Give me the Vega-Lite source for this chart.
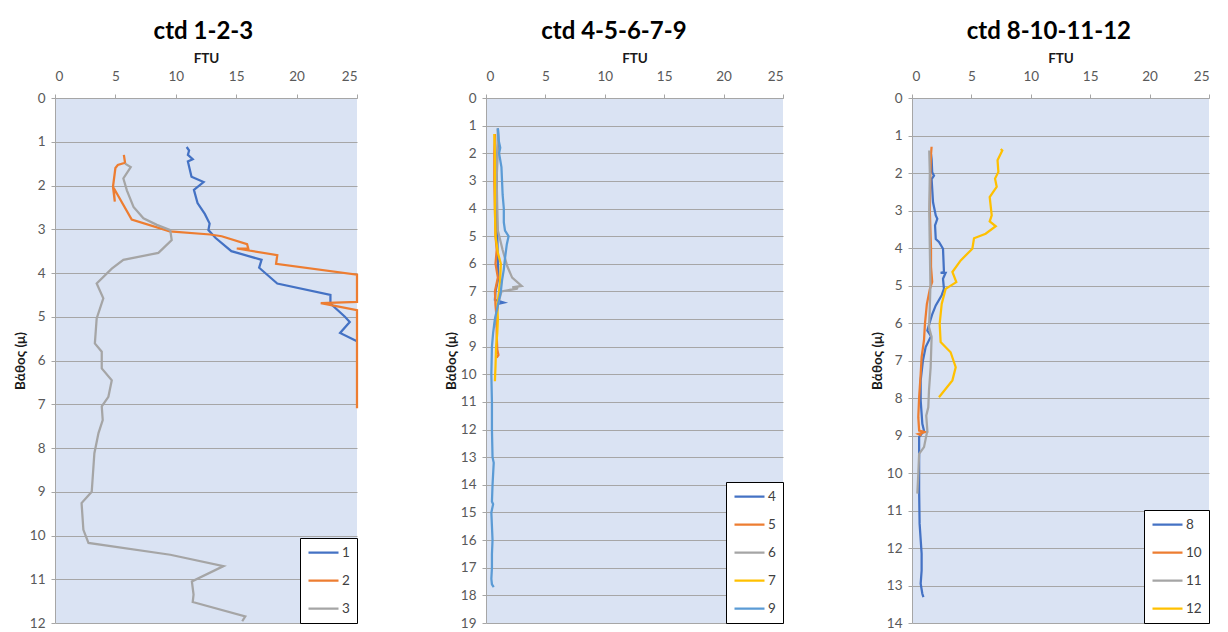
{
 "$schema": "https://vega.github.io/schema/vega-lite/v6.json",
 "background": "white",
 "padding": {"left": 13, "top": 20, "right": 5, "bottom": 5},
 "bounds": "flush",
 "spacing": 129,
 "datasets": {
  "p1": [
   {"s":"1","d":1.12,"v":10.9},{"s":"1","d":1.2,"v":11.1},{"s":"1","d":1.3,"v":11.0},{"s":"1","d":1.4,"v":11.4},{"s":"1","d":1.45,"v":11.0},{"s":"1","d":1.8,"v":11.3},{"s":"1","d":1.92,"v":12.3},{"s":"1","d":2.1,"v":11.5},{"s":"1","d":2.4,"v":11.8},{"s":"1","d":2.65,"v":12.4},{"s":"1","d":2.87,"v":12.8},{"s":"1","d":3.02,"v":12.7},{"s":"1","d":3.2,"v":13.3},{"s":"1","d":3.5,"v":14.6},{"s":"1","d":3.7,"v":17.1},{"s":"1","d":3.88,"v":16.9},{"s":"1","d":4.24,"v":18.4},{"s":"1","d":4.5,"v":22.8},{"s":"1","d":4.7,"v":22.8},{"s":"1","d":5.0,"v":24.0},{"s":"1","d":5.12,"v":24.4},{"s":"1","d":5.37,"v":23.6},{"s":"1","d":5.56,"v":25.0},
   {"s":"2","d":1.3,"v":5.7},{"s":"2","d":1.48,"v":5.8},{"s":"2","d":1.53,"v":5.2},{"s":"2","d":1.6,"v":5.0},{"s":"2","d":2.03,"v":4.8},{"s":"2","d":2.37,"v":4.95},{"s":"2","d":2.05,"v":4.85},{"s":"2","d":2.78,"v":6.35},{"s":"2","d":3.05,"v":9.5},{"s":"2","d":3.12,"v":12.85},{"s":"2","d":3.16,"v":13.8},{"s":"2","d":3.34,"v":15.9},{"s":"2","d":3.44,"v":16.0},{"s":"2","d":3.44,"v":15.05},{"s":"2","d":3.59,"v":18.4},{"s":"2","d":3.79,"v":18.3},{"s":"2","d":4.04,"v":25.0},{"s":"2","d":4.66,"v":25.0},{"s":"2","d":4.69,"v":22.0},{"s":"2","d":4.85,"v":25.0},{"s":"2","d":7.09,"v":25.0},
   {"s":"3","d":1.5,"v":5.8},{"s":"3","d":1.58,"v":6.27},{"s":"3","d":1.84,"v":5.66},{"s":"3","d":2.11,"v":5.95},{"s":"3","d":2.49,"v":6.5},{"s":"3","d":2.75,"v":7.32},{"s":"3","d":2.9,"v":8.43},{"s":"3","d":3.02,"v":9.54},{"s":"3","d":3.25,"v":9.66},{"s":"3","d":3.54,"v":8.56},{"s":"3","d":3.7,"v":5.66},{"s":"3","d":3.9,"v":4.7},{"s":"3","d":4.24,"v":3.45},{"s":"3","d":4.58,"v":4.0},{"s":"3","d":5.04,"v":3.45},{"s":"3","d":5.61,"v":3.3},{"s":"3","d":5.8,"v":3.87},{"s":"3","d":6.18,"v":3.87},{"s":"3","d":6.45,"v":4.7},{"s":"3","d":6.83,"v":4.42},{"s":"3","d":7.05,"v":3.87},{"s":"3","d":7.36,"v":3.95},{"s":"3","d":7.66,"v":3.6},{"s":"3","d":8.12,"v":3.26},{"s":"3","d":9.0,"v":3.04},{"s":"3","d":9.26,"v":2.2},{"s":"3","d":9.87,"v":2.35},{"s":"3","d":10.17,"v":2.77},{"s":"3","d":10.44,"v":9.54},{"s":"3","d":10.7,"v":13.95},{"s":"3","d":11.05,"v":11.33},{"s":"3","d":11.35,"v":11.47},{"s":"3","d":11.52,"v":11.4},{"s":"3","d":11.85,"v":15.75},{"s":"3","d":11.96,"v":15.5}
  ],
  "p2": [
   {"s":"4","d":1.1,"v":1.0},{"s":"4","d":1.5,"v":1.05},{"s":"4","d":2.0,"v":0.95},{"s":"4","d":3.0,"v":0.9},{"s":"4","d":4.0,"v":0.9},{"s":"4","d":5.0,"v":0.95},{"s":"4","d":6.0,"v":1.0},{"s":"4","d":6.5,"v":1.05},{"s":"4","d":7.0,"v":0.8},{"s":"4","d":7.3,"v":0.75},{"s":"4","d":7.4,"v":1.5},{"s":"4","d":7.45,"v":1.0},{"s":"4","d":7.8,"v":0.9},{"s":"4","d":8.2,"v":0.8},
   {"s":"5","d":1.3,"v":0.75},{"s":"5","d":2.0,"v":0.7},{"s":"5","d":3.0,"v":0.7},{"s":"5","d":4.0,"v":0.75},{"s":"5","d":5.0,"v":0.8},{"s":"5","d":5.5,"v":0.9},{"s":"5","d":6.0,"v":0.8},{"s":"5","d":6.5,"v":1.0},{"s":"5","d":7.0,"v":0.75},{"s":"5","d":7.5,"v":0.8},{"s":"5","d":8.0,"v":0.9},{"s":"5","d":8.6,"v":0.9},{"s":"5","d":9.1,"v":0.95},{"s":"5","d":9.3,"v":1.05},{"s":"5","d":9.4,"v":0.9},
   {"s":"6","d":1.1,"v":1.0},{"s":"6","d":2.0,"v":0.95},{"s":"6","d":3.0,"v":0.9},{"s":"6","d":4.0,"v":0.95},{"s":"6","d":4.8,"v":1.0},{"s":"6","d":5.5,"v":1.4},{"s":"6","d":6.1,"v":1.8},{"s":"6","d":6.5,"v":2.2},{"s":"6","d":6.8,"v":3.0},{"s":"6","d":6.85,"v":2.2},{"s":"6","d":6.82,"v":2.7},{"s":"6","d":6.9,"v":2.6},{"s":"6","d":7.0,"v":1.3},{"s":"6","d":7.5,"v":1.0},{"s":"6","d":8.0,"v":0.8},{"s":"6","d":8.3,"v":0.7},
   {"s":"7","d":1.3,"v":0.7},{"s":"7","d":2.0,"v":0.75},{"s":"7","d":3.0,"v":0.75},{"s":"7","d":4.0,"v":0.75},{"s":"7","d":5.0,"v":0.8},{"s":"7","d":5.6,"v":1.0},{"s":"7","d":6.0,"v":1.25},{"s":"7","d":6.5,"v":1.2},{"s":"7","d":7.0,"v":1.1},{"s":"7","d":7.5,"v":0.95},{"s":"7","d":8.0,"v":1.0},{"s":"7","d":8.5,"v":0.95},{"s":"7","d":9.0,"v":0.85},{"s":"7","d":9.7,"v":0.8},{"s":"7","d":10.25,"v":0.75},
   {"s":"9","d":1.1,"v":1.0},{"s":"9","d":1.5,"v":1.05},{"s":"9","d":1.8,"v":1.2},{"s":"9","d":2.0,"v":1.1},{"s":"9","d":2.5,"v":1.3},{"s":"9","d":3.0,"v":1.35},{"s":"9","d":3.5,"v":1.4},{"s":"9","d":4.0,"v":1.5},{"s":"9","d":4.5,"v":1.5},{"s":"9","d":4.8,"v":1.6},{"s":"9","d":5.0,"v":1.9},{"s":"9","d":5.3,"v":1.75},{"s":"9","d":5.8,"v":1.6},{"s":"9","d":6.2,"v":1.5},{"s":"9","d":6.6,"v":1.35},{"s":"9","d":7.0,"v":1.25},{"s":"9","d":7.5,"v":1.0},{"s":"9","d":8.0,"v":0.75},{"s":"9","d":8.5,"v":0.6},{"s":"9","d":9.0,"v":0.5},{"s":"9","d":10.0,"v":0.45},{"s":"9","d":11.0,"v":0.5},{"s":"9","d":12.0,"v":0.5},{"s":"9","d":13.0,"v":0.55},{"s":"9","d":13.2,"v":0.65},{"s":"9","d":14.0,"v":0.55},{"s":"9","d":14.6,"v":0.5},{"s":"9","d":14.7,"v":0.6},{"s":"9","d":15.0,"v":0.45},{"s":"9","d":15.5,"v":0.5},{"s":"9","d":16.0,"v":0.55},{"s":"9","d":16.5,"v":0.5},{"s":"9","d":17.0,"v":0.5},{"s":"9","d":17.4,"v":0.45},{"s":"9","d":17.6,"v":0.5},{"s":"9","d":17.7,"v":0.65}
  ],
  "p3": [
   {"s":"8","d":1.5,"v":1.6},{"s":"8","d":1.63,"v":1.65},{"s":"8","d":1.98,"v":1.7},{"s":"8","d":2.07,"v":1.85},{"s":"8","d":2.16,"v":1.65},{"s":"8","d":2.78,"v":1.77},{"s":"8","d":3.13,"v":2.0},{"s":"8","d":3.22,"v":2.13},{"s":"8","d":3.4,"v":1.94},{"s":"8","d":3.76,"v":2.0},{"s":"8","d":3.84,"v":2.27},{"s":"8","d":4.02,"v":2.61},{"s":"8","d":4.64,"v":2.69},{"s":"8","d":4.66,"v":2.41},{"s":"8","d":4.66,"v":2.83},{"s":"8","d":4.82,"v":2.61},{"s":"8","d":5.09,"v":2.69},{"s":"8","d":5.26,"v":2.5},{"s":"8","d":5.53,"v":2.0},{"s":"8","d":5.76,"v":1.71},{"s":"8","d":6.2,"v":1.29},{"s":"8","d":6.35,"v":1.6},{"s":"8","d":6.64,"v":1.15},{"s":"8","d":7.0,"v":0.92},{"s":"8","d":7.53,"v":0.73},{"s":"8","d":8.07,"v":0.73},{"s":"8","d":8.69,"v":0.87},{"s":"8","d":8.87,"v":1.01},{"s":"8","d":9.04,"v":0.6},{"s":"8","d":10.46,"v":0.6},{"s":"8","d":11.35,"v":0.64},{"s":"8","d":12.15,"v":0.81},{"s":"8","d":12.6,"v":0.81},{"s":"8","d":12.95,"v":0.73},{"s":"8","d":13.22,"v":0.87},{"s":"8","d":13.31,"v":0.96},
   {"s":"10","d":1.3,"v":1.65},{"s":"10","d":1.5,"v":1.6},{"s":"10","d":2.0,"v":1.55},{"s":"10","d":3.0,"v":1.5},{"s":"10","d":3.5,"v":1.55},{"s":"10","d":4.0,"v":1.6},{"s":"10","d":4.5,"v":1.6},{"s":"10","d":4.9,"v":1.7},{"s":"10","d":5.1,"v":1.5},{"s":"10","d":5.5,"v":1.25},{"s":"10","d":6.02,"v":1.09},{"s":"10","d":6.46,"v":1.01},{"s":"10","d":6.91,"v":0.81},{"s":"10","d":7.36,"v":0.73},{"s":"10","d":7.98,"v":0.6},{"s":"10","d":8.51,"v":0.53},{"s":"10","d":8.87,"v":0.6},{"s":"10","d":8.91,"v":1.1},{"s":"10","d":8.96,"v":0.53},{"s":"10","d":9.0,"v":0.8},
   {"s":"11","d":1.4,"v":1.45},{"s":"11","d":2.0,"v":1.5},{"s":"11","d":3.0,"v":1.45},{"s":"11","d":4.0,"v":1.5},{"s":"11","d":5.0,"v":1.55},{"s":"11","d":5.67,"v":1.49},{"s":"11","d":6.11,"v":1.43},{"s":"11","d":6.38,"v":1.65},{"s":"11","d":7.18,"v":1.57},{"s":"11","d":7.8,"v":1.43},{"s":"11","d":8.25,"v":1.37},{"s":"11","d":8.47,"v":1.2},{"s":"11","d":8.87,"v":1.29},{"s":"11","d":9.31,"v":1.01},{"s":"11","d":9.49,"v":0.6},{"s":"11","d":10.02,"v":0.53},{"s":"11","d":10.55,"v":0.45},
   {"s":"12","d":1.36,"v":7.47},{"s":"12","d":1.4,"v":7.6},{"s":"12","d":1.66,"v":7.2},{"s":"12","d":1.97,"v":7.27},{"s":"12","d":2.15,"v":6.99},{"s":"12","d":2.37,"v":7.13},{"s":"12","d":2.64,"v":6.54},{"s":"12","d":3.13,"v":6.71},{"s":"12","d":3.29,"v":6.54},{"s":"12","d":3.42,"v":7.05},{"s":"12","d":3.62,"v":6.2},{"s":"12","d":3.74,"v":5.22},{"s":"12","d":4.02,"v":5.08},{"s":"12","d":4.33,"v":4.1},{"s":"12","d":4.64,"v":3.4},{"s":"12","d":4.91,"v":3.73},{"s":"12","d":5.09,"v":2.83},{"s":"12","d":5.49,"v":2.5},{"s":"12","d":6.02,"v":2.33},{"s":"12","d":6.51,"v":2.41},{"s":"12","d":6.78,"v":3.25},{"s":"12","d":7.18,"v":3.68},{"s":"12","d":7.53,"v":3.4},{"s":"12","d":7.98,"v":2.27}
  ]
 },
 "config": {
  "font": "Lato",
  "view": {"fill": "#dae3f3", "stroke": null},
  "axis": {"labelFont": "Lato", "labelFontSize": 13.5, "labelColor": "#595959", "titleFont": "Lato", "titleFontSize": 13.5, "titleFontWeight": "bold", "titleColor": "#1a1a1a", "domainColor": "#a6a6a6", "tickColor": "#a6a6a6", "gridColor": "#a6a6a6", "gridOpacity": 1, "tickSize": 4},
  "axisX": {"grid": false, "labelPadding": 11, "titlePadding": 4, "labelAngle": 0},
  "axisY": {"grid": true, "labelPadding": 6, "titlePadding": 2},
  "title": {"fontSize": 24, "fontWeight": "bold", "color": "#000000", "font": "Lato", "offset": 7, "frame": "bounds", "anchor": "middle"},
  "legend": {"fillColor": "white", "strokeColor": "black", "padding": 7, "symbolType": "stroke", "symbolSize": 900, "symbolStrokeWidth": 2.25, "labelFont": "Lato", "labelFontSize": 13.5, "labelColor": "#404040", "rowPadding": 13, "clipHeight": 15, "offset": 0, "labelOffset": 2, "orient": "bottom-right"}
 },
 "resolve": {"scale": {"color": "independent", "x": "independent", "y": "independent"}, "legend": {"color": "independent"}},
 "hconcat": [
  {
   "width": 302, "height": 525,
   "title": {"text": "ctd 1-2-3", "dx": 16},
   "data": {"name": "p1"},
   "mark": {"type": "line", "strokeWidth": 2.25},
   "encoding": {
    "x": {"field": "v", "type": "quantitative", "scale": {"domain": [0, 25], "nice": false}, "axis": {"orient": "top", "title": "FTU", "values": [0, 5, 10, 15, 20, 25]}},
    "y": {"field": "d", "type": "quantitative", "scale": {"domain": [0, 12], "reverse": true, "nice": false}, "axis": {"title": "Βάθος (μ)", "values": [0,1,2,3,4,5,6,7,8,9,10,11,12]}},
    "color": {"field": "s", "type": "nominal", "scale": {"domain": ["1", "2", "3"], "range": ["#4472c4", "#ed7d31", "#a5a5a5"]}, "legend": {"title": null, "orient": "bottom-right"}},
    "order": {"value": null}
   }
  },
  {
   "width": 297, "height": 525,
   "title": {"text": "ctd 4-5-6-7-9", "dx": 0},
   "data": {"name": "p2"},
   "mark": {"type": "line", "strokeWidth": 2.25},
   "encoding": {
    "x": {"field": "v", "type": "quantitative", "scale": {"domain": [0, 25], "nice": false}, "axis": {"orient": "top", "title": "FTU", "values": [0, 5, 10, 15, 20, 25]}},
    "y": {"field": "d", "type": "quantitative", "scale": {"domain": [0, 19], "reverse": true, "nice": false}, "axis": {"title": "Βάθος (μ)", "values": [0,1,2,3,4,5,6,7,8,9,10,11,12,13,14,15,16,17,18,19]}},
    "color": {"field": "s", "type": "nominal", "scale": {"domain": ["4", "5", "6", "7", "9"], "range": ["#4472c4", "#ed7d31", "#a5a5a5", "#ffc000", "#5b9bd5"]}, "legend": {"title": null, "orient": "bottom-right"}},
    "order": {"value": null}
   }
  },
  {
   "width": 297, "height": 525,
   "title": {"text": "ctd 8-10-11-12", "dx": 9},
   "data": {"name": "p3"},
   "mark": {"type": "line", "strokeWidth": 2.25},
   "encoding": {
    "x": {"field": "v", "type": "quantitative", "scale": {"domain": [0, 25], "nice": false}, "axis": {"orient": "top", "title": "FTU", "values": [0, 5, 10, 15, 20, 25]}},
    "y": {"field": "d", "type": "quantitative", "scale": {"domain": [0, 14], "reverse": true, "nice": false}, "axis": {"title": "Βάθος (μ)", "values": [0,1,2,3,4,5,6,7,8,9,10,11,12,13,14]}},
    "color": {"field": "s", "type": "nominal", "scale": {"domain": ["8", "10", "11", "12"], "range": ["#4472c4", "#ed7d31", "#a5a5a5", "#ffc000"]}, "legend": {"title": null, "orient": "bottom-right"}},
    "order": {"value": null}
   }
  }
 ]
}
